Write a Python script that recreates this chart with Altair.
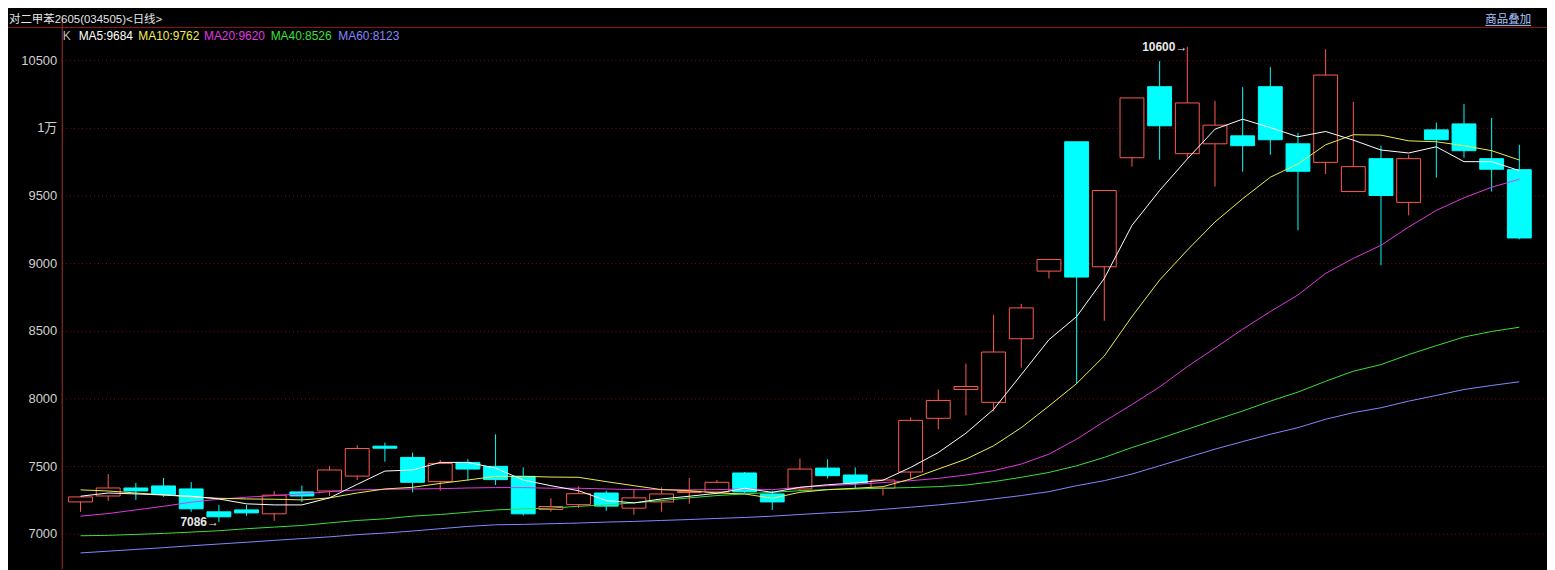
import altair as alt
import pandas as pd

# ---------------- data ----------------
opens = [7235, 7279, 7338, 7353, 7331, 7162, 7176, 7147, 7309, 7316,
         7426, 7647, 7564, 7385, 7527, 7498, 7424, 7179, 7215, 7301,
         7189, 7235, 7305, 7309, 7449, 7294, 7331, 7485, 7434, 7336,
         7456, 7853, 8066, 7971, 8441, 8941, 9897, 8973, 9779, 10304,
         9809, 9882, 9941, 10304, 9882, 9745, 9529, 9772, 9449, 9985,
         10029, 9772, 9691]
highs = [7272, 7441, 7375, 7412, 7382, 7213, 7213, 7316, 7356, 7500,
         7654, 7674, 7600, 7546, 7551, 7735, 7490, 7262, 7350, 7318,
         7331, 7343, 7412, 7397, 7456, 7318, 7556, 7551, 7490, 7404,
         7860, 8066, 8257, 8618, 8699, 9027, 9897, 9537, 10221, 10493,
         10600, 10199, 10301, 10449, 9963, 10581, 10191, 9868, 9801, 10039,
         10176, 10073, 9875]
lows = [7162, 7243, 7250, 7272, 7162, 7086, 7132, 7095, 7235, 7279,
        7397, 7532, 7306, 7318, 7392, 7360, 7135, 7164, 7191, 7169,
        7140, 7164, 7221, 7300, 7301, 7176, 7318, 7409, 7336, 7282,
        7404, 7772, 7875, 7904, 8228, 8887, 8108, 8574, 9713, 9765,
        9772, 9566, 9676, 9801, 9243, 9659, 9529, 8985, 9353, 9632,
        9779, 9529, 9176]
closes = [7272, 7338, 7316, 7289, 7184, 7125, 7154, 7285, 7279, 7471,
          7630, 7632, 7380, 7520, 7478, 7400, 7147, 7201, 7296, 7204,
          7265, 7294, 7311, 7380, 7309, 7235, 7478, 7429, 7375, 7397,
          7838, 7985, 8088, 8343, 8669, 9027, 8897, 9537, 10221, 10015,
          10184, 10020, 9868, 9912, 9679, 10390, 9713, 9500, 9772, 9912,
          9831, 9694, 9186]

ma5 = [7277, 7301, 7294, 7287, 7277, 7257, 7221, 7213, 7213, 7265,
       7365, 7463, 7471, 7527, 7527, 7485, 7397, 7355, 7318, 7245,
       7228, 7257, 7277, 7299, 7336, 7306, 7343, 7362, 7375, 7395,
       7490, 7600, 7743, 7919, 8176, 8434, 8605, 8887, 9279, 9537,
       9770, 9990, 10064, 10002, 9934, 9973, 9909, 9836, 9814, 9860,
       9750, 9750, 9684]
ma10 = [7324, 7316, 7301, 7287, 7272, 7262, 7257, 7255, 7250, 7265,
        7301, 7331, 7343, 7372, 7397, 7424, 7424, 7419, 7417, 7385,
        7355, 7326, 7318, 7301, 7294, 7262, 7306, 7326, 7336, 7348,
        7404, 7478, 7551, 7650, 7784, 7944, 8110, 8314, 8605, 8875,
        9096, 9304, 9476, 9635, 9733, 9875, 9949, 9946, 9904, 9897,
        9868, 9831, 9762]
ma20 = [7130, 7149, 7176, 7203, 7233, 7255, 7270, 7282, 7294, 7311,
        7324, 7328, 7331, 7333, 7338, 7341, 7341, 7336, 7336, 7331,
        7326, 7326, 7324, 7326, 7331, 7326, 7343, 7355, 7365, 7378,
        7392, 7409, 7434, 7466, 7515, 7588, 7699, 7830, 7955, 8085,
        8235, 8372, 8512, 8642, 8765, 8924, 9035, 9132, 9267, 9390,
        9483, 9561, 9620]
ma40 = [6985, 6988, 6995, 7002, 7012, 7022, 7037, 7049, 7061, 7080,
        7098, 7110, 7130, 7142, 7159, 7176, 7184, 7189, 7203, 7213,
        7228, 7245, 7265, 7282, 7294, 7306, 7318, 7326, 7331, 7337,
        7341, 7348, 7360, 7385, 7417, 7453, 7502, 7564, 7637, 7703,
        7772, 7840, 7907, 7980, 8047, 8127, 8201, 8250, 8324, 8390,
        8454, 8495, 8526]
ma60 = [6858, 6871, 6884, 6897, 6911, 6924, 6937, 6951, 6964, 6977,
        6993, 7005, 7020, 7037, 7054, 7066, 7069, 7074, 7079, 7086,
        7091, 7098, 7105, 7113, 7120, 7130, 7142, 7154, 7164, 7180,
        7196, 7213, 7233, 7257, 7282, 7311, 7355, 7392, 7441, 7502,
        7564, 7625, 7681, 7735, 7784, 7846, 7895, 7931, 7980, 8022,
        8066, 8096, 8123]

ma_keys = ["MA5", "MA10", "MA20", "MA40", "MA60"]
ma_series = [ma5, ma10, ma20, ma40, ma60]
ma_colors = ["#ffffff", "#eeee50", "#e03ae0", "#3ae03a", "#8686ff"]
y_ticks = [7000, 7500, 8000, 8500, 9000, 9500, 10000, 10500]
title_text = "对二甲苯2605(034505)<日线>"
overlay_text = "商品叠加"

RED = "#ff5a50"
CYAN = "#00ffff"
FONT = "Liberation Sans, Noto Sans CJK SC, sans-serif"

# ---------------- tables ----------------
n = len(opens)
df = pd.DataFrame({"i": list(range(n)), "open": opens, "high": highs,
                   "low": lows, "close": closes})
for k, s in zip(ma_keys, ma_series):
    df[k] = s
df["dir"] = ["up" if c >= o else "down" for o, c in zip(opens, closes)]

imax = max(range(n), key=lambda j: highs[j])
imin = min(range(n), key=lambda j: lows[j])
ann = pd.DataFrame({"i": [imax, imin], "v": [highs[imax], lows[imin]],
                    "label": [f"{highs[imax]}→", f"{lows[imin]}→"]})

# ---------------- scales ----------------
xs = alt.Scale(domain=[-0.5, 52.82], nice=False, zero=False)
ys = alt.Scale(domain=[6742.6, 10801.5], nice=False, zero=False)
X = alt.X("i:Q", scale=xs, axis=None)
dir_stroke = alt.Scale(domain=["up", "down"], range=[RED, CYAN])
dir_fill = alt.Scale(domain=["up", "down"], range=["#000000", CYAN])

yaxis = alt.Axis(values=y_ticks, format="d",
                 labelExpr="datum.value == 10000 ? '1万' : datum.label",
                 grid=True, gridColor="#8e0a0a", gridDash=[1, 3], gridWidth=1,
                 domain=True, domainColor="#a83030", domainWidth=1,
                 ticks=False, labelColor="#d0d0d0", labelFont=FONT,
                 labelFontSize=13, labelPadding=5, title=None)

base = alt.Chart(df)

wick = base.mark_rule(strokeWidth=1).encode(
    x=X,
    y=alt.Y("low:Q", scale=ys, axis=yaxis),
    y2="high:Q",
    stroke=alt.Stroke("dir:N", scale=dir_stroke, legend=None),
)

body = base.mark_bar(size=24, strokeWidth=1).encode(
    x=X,
    y=alt.Y("open:Q", scale=ys),
    y2="close:Q",
    fill=alt.Fill("dir:N", scale=dir_fill, legend=None),
    stroke=alt.Stroke("dir:N", scale=dir_stroke, legend=None),
)

lines = base.transform_fold(
    list(reversed(ma_keys)), as_=["ma", "v"]
).mark_line(strokeWidth=1).encode(
    x=X,
    y=alt.Y("v:Q", scale=ys),
    color=alt.Color("ma:N", scale=alt.Scale(domain=ma_keys, range=ma_colors),
                    legend=None),
)

annot = alt.Chart(ann).mark_text(
    align="right", baseline="middle", fontSize=12, fontWeight="bold",
    font=FONT, color="#e8e8e8", dx=0
).encode(x=X, y=alt.Y("v:Q", scale=ys), text="label:N")

one = pd.DataFrame({"z": [0]})


def label(text, xpx, ypx, color, size=12, weight="normal", baseline="middle"):
    return alt.Chart(pd.DataFrame({"t": [text]})).mark_text(
        align="left", baseline=baseline, fontSize=size, font=FONT,
        fontWeight=weight, color=color
    ).encode(x=alt.value(xpx), y=alt.value(ypx), text="t:N")


top_line = alt.Chart(one).mark_rule(color="#8e1e1e", strokeWidth=1).encode(
    x=alt.value(-54), x2=alt.value(1493), y=alt.value(8))
underline = alt.Chart(one).mark_rule(color="#a8c8ff", strokeWidth=1).encode(
    x=alt.value(1431), x2=alt.value(1477), y=alt.value(6))

header = [
    label(title_text, -53, -5, "#e6e6e6", size=11.5, baseline="top"),
    label(overlay_text, 1431, -5, "#a8c8ff", size=11.5, baseline="top"),
    label("K", 1, 17, "#bdbdbd"),
]
legend_x = [17, 77, 143, 210, 278]
for key, s, col, lx in zip(ma_keys, ma_series, ma_colors, legend_x):
    header.append(label(f"{key}:{s[-1]}", lx, 17, col))

chart = alt.layer(wick, body, lines, annot, top_line, underline, *header).properties(
    width=1493, height=552,
    autosize=alt.AutoSizeParams(type="none"),
    padding={"left": 54, "top": 10, "right": 0, "bottom": 0},
    background="#000000",
).configure_view(stroke=None)

chart.save("out.html", embed_options={"renderer": "svg", "actions": False})
